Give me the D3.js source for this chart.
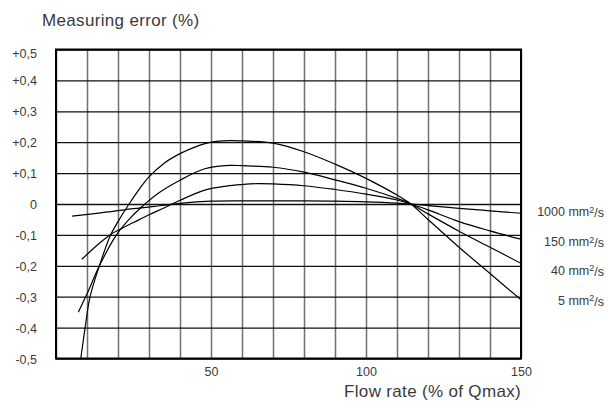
<!DOCTYPE html>
<html lang="en">
<head>
    <meta charset="UTF-8">
    <title>Measuring error</title>
    <script src="https://d3js.org/d3.v7.min.js"></script>
</head>

<style>
    body { margin: 0; background: #fff; }

    text {
        font-family: "Liberation Sans", Arial, sans-serif;
        fill: #3a3a3a;
    }

    .tick text { font-size: 12.5px; }

    .xgrid .tick line {
        stroke: #707070;
        stroke-width: 1.5px;
    }

    .ygrid .tick line {
        stroke: #111;
        stroke-width: 1.3px;
    }

    .curve {
        fill: none;
        stroke: #000;
        stroke-width: 1.2px;
    }

    .frame {
        fill: none;
        stroke: #000;
        stroke-width: 2px;
    }

    .title { font-size: 17px; letter-spacing: 0.33px; }
    .series-label { font-size: 12.5px; }
</style>

<body>
<svg width="608" height="403"></svg>

<script>

    // flow rate (% of Qmax) and measuring error (%) per viscosity
    var flow5    = [8, 9.4, 11, 14, 17.4, 20, 23.3, 27, 30, 35, 40, 45, 50, 56, 60, 70, 80, 90, 100, 110, 114.5, 120, 130, 140, 150];
    var err5     = [-0.5, -0.4, -0.3, -0.2, -0.105, -0.057, -0.004, 0.05, 0.088, 0.133, 0.163, 0.185, 0.2, 0.205, 0.204, 0.197, 0.169, 0.129, 0.083, 0.029, 0, -0.05, -0.14, -0.225, -0.31];

    var flow40   = [7.2, 10.5, 14, 19.5, 24, 28.7, 33, 40, 48, 56, 60, 70, 80, 90, 100, 110, 114.5, 120, 130, 140, 150];
    var err40    = [-0.35, -0.28, -0.2, -0.1, -0.045, 0, 0.035, 0.077, 0.114, 0.125, 0.124, 0.119, 0.103, 0.078, 0.051, 0.018, 0, -0.032, -0.088, -0.14, -0.192];

    var flow150  = [8.3, 14, 17.4, 21.2, 25, 30, 35, 40, 48, 55, 60, 65, 70, 80, 90, 100, 110, 114.5, 120, 130, 140, 150];
    var err150   = [-0.179, -0.127, -0.1, -0.079, -0.06, -0.035, -0.012, 0.012, 0.045, 0.058, 0.063, 0.066, 0.065, 0.059, 0.047, 0.032, 0.013, 0, -0.019, -0.057, -0.087, -0.114];

    var flow1000 = [5.2, 15, 25, 35, 40, 50, 60, 70, 80, 90, 100, 110, 114.5, 120, 130, 140, 150];
    var err1000  = [-0.039, -0.028, -0.015, -0.004, 0.002, 0.009, 0.01, 0.01, 0.01, 0.009, 0.007, 0.003, 0, -0.005, -0.014, -0.022, -0.03];

    var viscosities = ["1000", "150", "40", "5"];
    var labelAt = [-0.025, -0.122, -0.214, -0.311];   // label height in error units

    var xTicks = d3.range(0, 151, 10);
    var xLabels = [50, 100, 150];
    var yTicks = d3.range(-5, 6).map(function(d) { return d / 10; });

    var series = [
        { flow: flow1000, err: err1000 },
        { flow: flow150,  err: err150 },
        { flow: flow40,   err: err40 },
        { flow: flow5,    err: err5 }
    ];

    var svg = d3.select("svg"),
        margin = { left: 56, top: 49.5, right: 87, bottom: 44.5 },
        width = +svg.attr("width") - margin.left - margin.right,
        height = +svg.attr("height") - margin.top - margin.bottom;

    var x = d3.scaleLinear().domain([0, 150]).range([0, width]);
    var y = d3.scaleLinear().domain([-0.5, 0.5]).range([height, 0]);

    var g = svg.append("g")
        .attr("transform", "translate(" + margin.left + "," + margin.top + ")");

    g.append("defs").append("clipPath").attr("id", "plot")
        .append("rect").attr("width", width).attr("height", height);

    // vertical grid + x labels
    var xg = g.append("g")
        .attr("class", "xgrid")
        .attr("transform", "translate(0," + height + ")")
        .call(d3.axisBottom(x)
            .tickValues(xTicks)
            .tickSize(-height)
            .tickPadding(8.6)
            .tickFormat(function(d) { return xLabels.indexOf(d) >= 0 ? d : ""; }));
    xg.select(".domain").remove();

    // horizontal grid + y labels
    var yg = g.append("g")
        .attr("class", "ygrid")
        .call(d3.axisLeft(y)
            .tickValues(yTicks)
            .tickSize(-width)
            .tickPadding(19)
            .tickFormat(function(d) {
                if (Math.abs(d) < 1e-9) return "0";
                return (d > 0 ? "+" : "-") + Math.abs(d).toFixed(1).replace(".", ",");
            }));
    yg.select(".domain").remove();
    yg.selectAll(".tick text").attr("dy", function(d) { return d === 0.5 ? "0.6em" : "0.36em"; });

    var line = d3.line()
        .x(function(d) { return x(d[0]); })
        .y(function(d) { return y(d[1]); })
        .curve(d3.curveCatmullRom.alpha(0.5));

    g.append("g")
        .attr("clip-path", "url(#plot)")
        .selectAll("path")
        .data(series)
        .enter().append("path")
        .attr("class", "curve")
        .attr("d", function(s) {
            return line(s.flow.map(function(f, i) { return [f, s.err[i]]; }));
        });

    g.append("rect")
        .attr("class", "frame")
        .attr("width", width)
        .attr("height", height);

    // viscosity labels
    var lab = g.selectAll(".series-label")
        .data(viscosities)
        .enter().append("text")
        .attr("class", "series-label")
        .attr("text-anchor", "end")
        .attr("x", width + 83)
        .attr("y", function(d, i) { return y(labelAt[i]); })
        .attr("dy", "0.36em");
    lab.append("tspan").text(function(d) { return d + " mm"; });
    lab.append("tspan").attr("dy", "-0.35em").style("font-size", "9px").text("2");
    lab.append("tspan").attr("dy", "0.35em").text("/s");

    svg.append("text")
        .attr("class", "title")
        .attr("x", 42)
        .attr("y", 26)
        .text("Measuring error (%)");

    svg.append("text")
        .attr("class", "title")
        .attr("text-anchor", "end")
        .attr("x", margin.left + width)
        .attr("y", 397)
        .text("Flow rate (% of Qmax)");

</script>

</body>
</html>
